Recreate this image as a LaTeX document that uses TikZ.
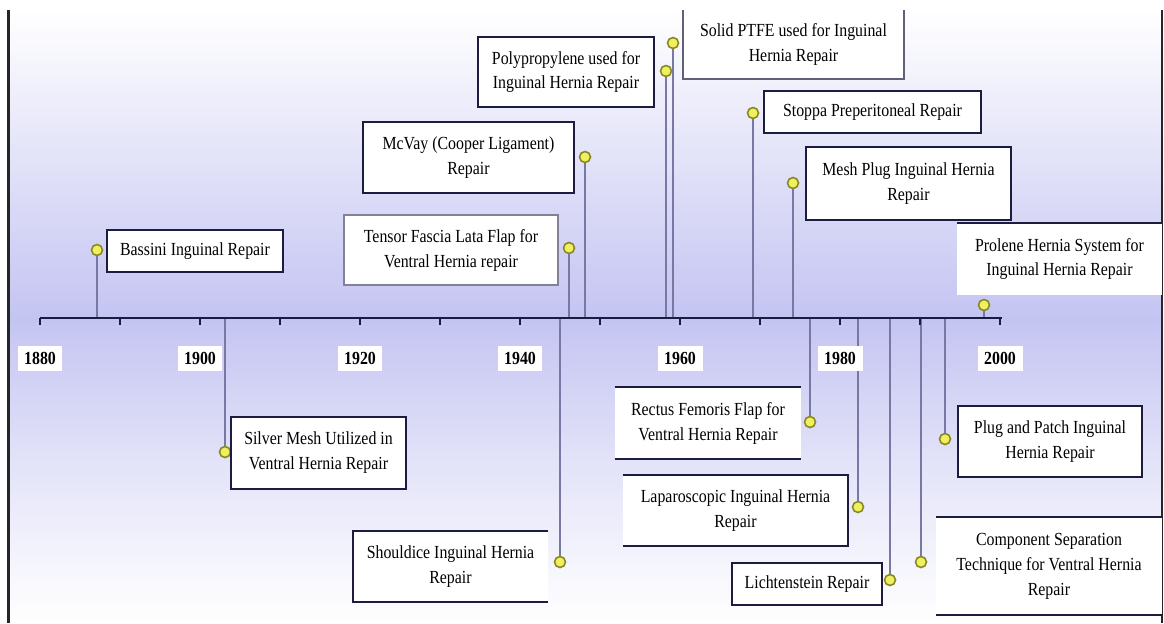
\documentclass[tikz,border=0pt]{standalone}
\usepackage{fontspec}
\setmainfont{Liberation Serif}[FakeStretch=0.86]
\definecolor{lav}{RGB}{196,196,242}
\definecolor{navy}{RGB}{28,28,64}
\definecolor{stemc}{RGB}{120,120,165}
\definecolor{dotfill}{RGB}{240,240,95}
\definecolor{dotline}{RGB}{135,135,35}
\begin{document}
\begin{tikzpicture}[x=0.02cm,y=-0.02cm,
    evbox/.style={fill=white,align=center,inner sep=0pt,font=\fontsize{10.5}{14.2}\selectfont},
    edge/.style={draw=navy,line width=1.1pt},
    dot/.style={circle,draw=dotline,fill=dotfill,line width=0.9pt,minimum size=0.22cm,inner sep=0pt},
    stem/.style={stemc,line width=0.8pt},
    yr/.style={fill=white,inner sep=0pt,minimum width=0.9cm,minimum height=0.5cm,font=\bfseries\fontsize{10.5}{12}\selectfont}]
    \useasboundingbox (0,0) rectangle (1164,623);
    \shade[top color=white,bottom color=lav,middle color=lav!50] (9,10) rectangle (1162,318);
    \shade[top color=lav,bottom color=white,middle color=lav!45] (9,318) rectangle (1162,623);
    \draw[black!85,line width=1.4pt] (8.5,10) -- (8.5,623);
    \draw[black!85,line width=1.4pt] (1162,10) -- (1162,623);
    \foreach \n/\x/\y in {bassini/97/250, tensor/569/248, mcvay/585/157, polyp/666/71,
      ptfe/673/43, stoppa/753/113, plug/793/183, prolene/984/305, silver/225/452,
      shouldice/560/562, rectus/810/422, lapar/858/507, licht/890/580, compsep/921/562,
      patch/945/439}
    {
    \coordinate (a-\n) at (\x,318);
    \node[dot] (d-\n) at (\x,\y) {};
    \draw[stem] (a-\n) -- (d-\n);
    }
    \draw[navy,line width=1.3pt] (40,318) -- (1002,318);
    \foreach \k in {0,...,12}
    \draw[navy,line width=0.9pt] ({40+80*\k},318) -- ({40+80*\k},325);
    \foreach \k/\lab in {0/1880, 2/1900, 4/1920, 6/1940, 8/1960, 10/1980, 12/2000}
    \node[yr] (y\lab) at ({40+80*\k},358) {\lab};
    \node[evbox,edge,minimum width=3.52cm,minimum height=0.84cm] (bassini) at (195,251)
      {Bassini Inguinal Repair};
    \node[evbox,draw=navy!55,line width=1.1pt,minimum width=4.28cm,minimum height=1.40cm] (tensor) at (451,250)
      {Tensor Fascia Lata Flap for\\Ventral Hernia repair};
    \node[evbox,edge,minimum width=4.22cm,minimum height=1.42cm] (mcvay) at (468.5,157.5)
      {McVay (Cooper Ligament)\\Repair};
    \node[evbox,edge,minimum width=3.52cm,minimum height=1.40cm] (polyp) at (566,72)
      {Polypropylene used for\\Inguinal Hernia Repair};
    \node[evbox,minimum width=4.42cm,minimum height=1.38cm] (ptfe) at (793.5,44.5)
      {Solid PTFE used for Inguinal\\Hernia Repair};
    \draw[navy!70,line width=1.1pt] (ptfe.north west) -- (ptfe.south west) -- (ptfe.south east) -- (ptfe.north east);
    \node[evbox,edge,minimum width=4.34cm,minimum height=0.84cm] (stoppa) at (872.5,112)
      {Stoppa Preperitoneal Repair};
    \node[evbox,edge,minimum width=4.10cm,minimum height=1.46cm] (plug) at (908.5,183.5)
      {Mesh Plug Inguinal Hernia\\Repair};
    \node[evbox,minimum width=4.10cm,minimum height=1.44cm] (prolene) at (1059.5,259)
      {Prolene Hernia System for\\Inguinal Hernia Repair};
    \draw[edge] (prolene.north west) -- (prolene.north east);
    \node[evbox,edge,minimum width=3.50cm,minimum height=1.44cm] (silver) at (318.5,453)
      {Silver Mesh Utilized in\\Ventral Hernia Repair};
    \node[evbox,minimum width=3.90cm,minimum height=1.42cm] (shouldice) at (450.5,566.5)
      {Shouldice Inguinal Hernia\\Repair};
    \draw[edge] (shouldice.north east) -- (shouldice.north west) -- (shouldice.south west) -- (shouldice.south east);
    \node[evbox,minimum width=3.72cm,minimum height=1.44cm] (rectus) at (708,423)
      {Rectus Femoris Flap for\\Ventral Hernia Repair};
    \draw[edge] (rectus.north west) -- (rectus.north east);
    \draw[edge] (rectus.south west) -- (rectus.south east);
    \node[evbox,minimum width=4.50cm,minimum height=1.42cm] (lapar) at (735.5,510.5)
      {Laparoscopic Inguinal Hernia\\Repair};
    \draw[edge] (lapar.north west) -- (lapar.north east) -- (lapar.south east) -- (lapar.south west);
    \node[evbox,edge,minimum width=3.00cm,minimum height=0.84cm] (licht) at (807,584)
      {Lichtenstein Repair};
    \node[evbox,minimum width=4.52cm,minimum height=1.96cm] (compsep) at (1049,566)
      {Component Separation\\Technique for Ventral Hernia\\Repair};
    \draw[edge] (compsep.north west) -- (compsep.north east);
    \draw[edge] (compsep.south west) -- (compsep.south east);
    \node[evbox,edge,minimum width=3.68cm,minimum height=1.42cm] (patch) at (1050,441.5)
      {Plug and Patch Inguinal\\Hernia Repair};
\end{tikzpicture}
\end{document}
